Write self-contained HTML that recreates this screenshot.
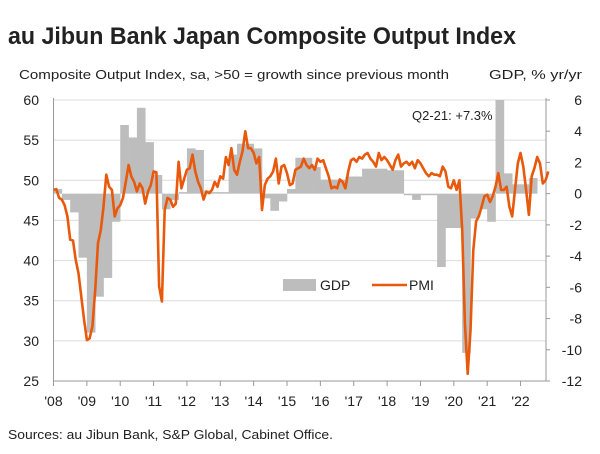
<!DOCTYPE html>
<html><head><meta charset="utf-8"><style>
body{margin:0;background:#fff;font-family:"Liberation Sans",sans-serif;}
svg text{font-family:"Liberation Sans",sans-serif;fill:#222;}
</style></head><body>
<svg width="600" height="449">
<text x="8" y="44" font-size="24" font-weight="bold" textLength="508" lengthAdjust="spacingAndGlyphs">au Jibun Bank Japan Composite Output Index</text>
<text x="19" y="79" font-size="13" textLength="430" lengthAdjust="spacingAndGlyphs">Composite Output Index, sa, &gt;50 = growth since previous month</text>
<text x="489" y="79" font-size="13" textLength="93" lengthAdjust="spacingAndGlyphs">GDP, % yr/yr</text>
<g id="grid"></g><g id="bars"></g><g id="axes"></g>
<path id="pmi" fill="none" stroke="#e8590c" stroke-width="2.6" stroke-linejoin="round"/>
<text x="412" y="120" font-size="13">Q2-21: +7.3%</text>
<rect x="283" y="279" width="33" height="12" fill="#bdbdbd"/>
<text x="320" y="290" font-size="14">GDP</text>
<line x1="372" y1="285" x2="407" y2="285" stroke="#e8590c" stroke-width="2.6"/>
<text x="409" y="290" font-size="14">PMI</text>
<text x="8" y="439" font-size="13" textLength="325" lengthAdjust="spacingAndGlyphs">Sources: au Jibun Bank, S&amp;P Global, Cabinet Office.</text>
</svg>
<script>
const gdpValues=[0.3,-0.4,-1.2,-4.1,-8.9,-6.6,-5.4,-1.8,4.4,3.6,5.5,3.3,1.2,-1.0,-0.4,0.1,2.9,2.8,0.2,0.1,0.1,2.5,3.2,3.2,2.9,-0.3,-1.1,-0.5,0.3,2.3,2.3,1.7,0.9,0.9,0.9,1.1,1.1,1.6,1.6,1.6,1.5,1.5,-0.1,-0.4,-0.1,-0.1,-4.7,-2.2,-2.2,-10.2,-1.6,-1.0,-1.8,7.3,1.3,0.6,0.6,1.0];
const pmiValues=[48.8,48.9,47.8,47.6,46.9,45.5,42.6,42.5,40.1,38.4,35.5,32.6,30.1,30.3,31.8,36.3,42.2,43.8,46.7,50.7,49.2,48.8,45.5,46.5,46.9,47.8,49.8,51.9,50.5,49.8,48.6,49.6,49.0,47.1,48.6,49.4,51.1,51.0,36.8,34.9,46.3,47.8,47.6,46.7,47.1,52.3,49.0,50.2,51.3,51.5,53.2,51.1,49.8,49.0,47.6,48.6,48.4,48.8,49.8,49.2,50.5,50.2,52.9,51.9,54.0,51.3,50.7,52.3,53.6,56.1,54.0,54.0,53.4,52.1,52.9,46.3,49.4,50.2,50.5,51.1,52.7,49.6,51.7,51.9,50.9,49.4,49.6,51.3,51.5,51.7,52.7,51.9,51.5,51.9,51.3,52.7,52.3,52.5,51.5,50.5,49.0,49.2,49.0,50.1,49.8,49.0,51.1,52.5,52.7,52.3,52.9,52.7,53.2,53.4,52.7,52.3,51.7,53.4,52.5,52.9,52.5,51.9,51.3,52.5,53.2,51.7,52.1,52.3,51.9,52.3,51.5,52.5,52.1,51.5,50.9,50.5,50.9,50.7,50.7,50.5,51.7,51.1,49.2,49.0,50.0,48.8,50.0,43.8,32.2,25.9,31.3,41.3,44.9,45.5,46.7,48.0,48.2,47.3,48.0,49.2,50.9,48.8,48.8,49.2,46.7,45.5,48.8,52.1,53.4,51.7,48.8,45.7,50.5,51.5,52.9,52.1,49.6,50.0,51.1];
const leftTicks=[25,30,35,40,45,50,55,60];
const rightTicks=[-12,-10,-8,-6,-4,-2,0,2,4,6];
const yearLabels=["'08","'09","'10","'11","'12","'13","'14","'15","'16","'17","'18","'19","'20","'21","'22"];
const NS="http://www.w3.org/2000/svg";
const X0=53.5,YW=33.36,PT=100,PB=381,XR=546;
const xYear=t=>X0+t*YW;
const yL=v=>PT+(60-v)*(PB-PT)/35;
const yR=v=>PT+(6-v)*(PB-PT)/18;
function mk(tag,attrs,parent){const e=document.createElementNS(NS,tag);for(const k in attrs)e.setAttribute(k,attrs[k]);document.getElementById(parent).appendChild(e);return e;}
leftTicks.forEach(v=>{
 if(v>25){const g=mk('line',{x1:X0,x2:XR,y1:yL(v),y2:yL(v),stroke:'#dcdcdc','stroke-width':1},'grid');
 
 }
 const t=mk('text',{x:39,y:yL(v)+5,'font-size':14,'text-anchor':'end'},'axes');t.textContent=v;
 
 
});
rightTicks.forEach(v=>{
 const t=mk('text',{x:582,y:yR(v)+5,'font-size':14,'text-anchor':'end'},'axes');t.textContent=v;
 
 
 mk('line',{x1:XR,x2:XR+4,y1:yR(v),y2:yR(v),stroke:'#999'},'axes');
});
mk('line',{x1:X0,x2:X0,y1:PT-2,y2:PB,stroke:'#999'},'axes');
mk('line',{x1:XR,x2:XR,y1:PT-2,y2:PB,stroke:'#999'},'axes');
mk('line',{x1:X0,x2:XR,y1:PB,y2:PB,stroke:'#999'},'axes');
yearLabels.forEach((l,i)=>{
 mk('line',{x1:xYear(i),x2:xYear(i),y1:PB,y2:PB+5,stroke:'#999'},'axes');
 const t=mk('text',{x:xYear(i),y:PB+25,'font-size':14,'text-anchor':'middle'},'axes');t.textContent=l;
 
 
});
const bw=YW/4;
gdpValues.forEach((v,i)=>{
 const vv=Math.max(-12,Math.min(6,v));
 const y0=yR(0),y1=yR(vv);
 const r=mk('rect',{x:X0+i*bw,width:bw+0.3,y:Math.min(y0,y1),height:Math.abs(y1-y0),fill:'#bdbdbd'},'bars');
 
 
});
document.getElementById('pmi').setAttribute('d',pmiValues.map((v,i)=>(i?'L':'M')+(X0+i*YW/12).toFixed(1)+' '+yL(v).toFixed(1)).join(' '));
</script>
</body></html>
